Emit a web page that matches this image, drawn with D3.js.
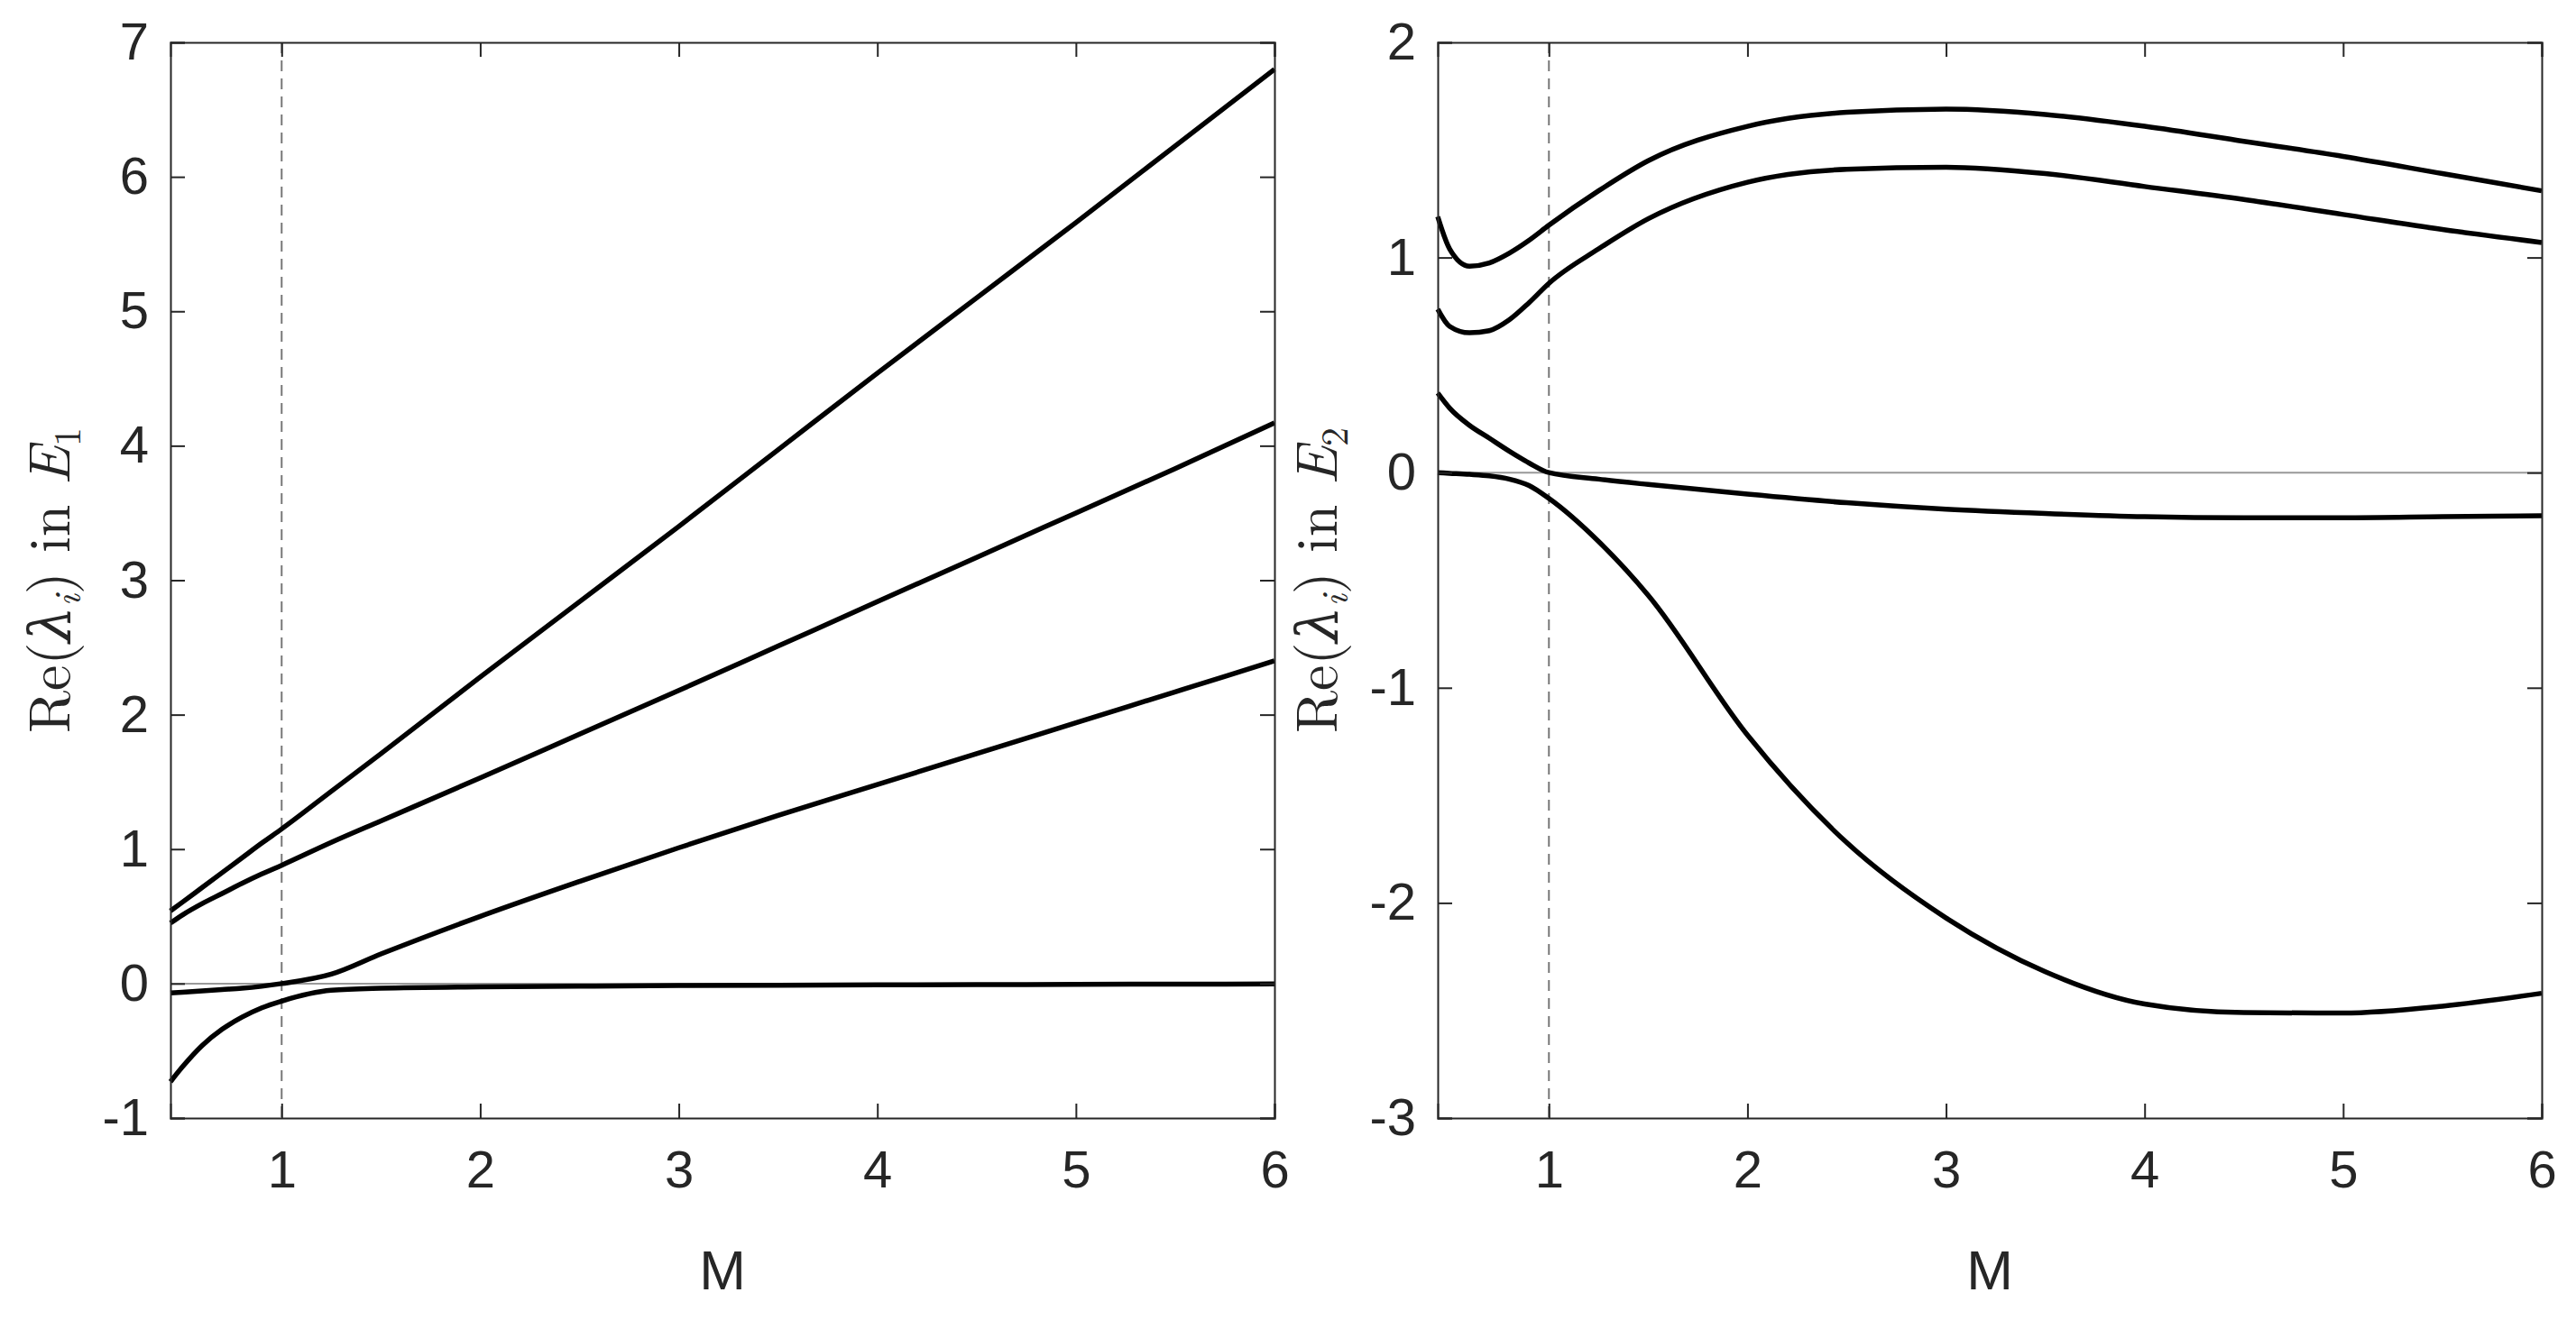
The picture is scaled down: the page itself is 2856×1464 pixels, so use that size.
<!DOCTYPE html>
<html><head><meta charset="utf-8">
<script src="https://cdn.jsdelivr.net/npm/d3@7"></script>
<style>body{margin:0;background:#fff}</style></head>
<body><svg id="c" width="2856" height="1464"></svg>
<script>
const M = [0.44,0.5,0.6,0.7,0.8,0.9,1,1.25,1.5,2,2.5,3,3.5,4,4.5,5,5.5,6];
const E1_a = [0.54,0.605,0.715,0.825,0.935,1.045,1.15,1.43,1.71,2.28,2.84,3.40,3.97,4.54,5.10,5.66,6.23,6.80];
const E1_b = [0.45,0.51,0.595,0.67,0.745,0.815,0.88,1.05,1.21,1.53,1.855,2.18,2.51,2.84,3.17,3.50,3.83,4.17];
const E1_c = [-0.07,-0.065,-0.055,-0.045,-0.035,-0.02,0.0,0.07,0.22,0.50,0.76,1.01,1.25,1.48,1.71,1.94,2.17,2.40];
const E1_d = [-0.73,-0.62,-0.46,-0.34,-0.25,-0.18,-0.13,-0.05,-0.035,-0.025,-0.02,-0.015,-0.012,-0.01,-0.008,-0.006,-0.004,-0.003];
const E2_a = [1.19,1.04,0.96,0.975,1.02,1.08,1.15,1.31,1.45,1.61,1.675,1.69,1.665,1.61,1.54,1.47,1.39,1.31];
const E2_b = [0.76,0.68,0.65,0.66,0.71,0.79,0.88,1.04,1.18,1.35,1.41,1.42,1.39,1.33,1.27,1.20,1.13,1.07];
const E2_c = [0.37,0.30,0.22,0.16,0.10,0.045,0.0,-0.03,-0.055,-0.10,-0.14,-0.17,-0.19,-0.205,-0.21,-0.21,-0.205,-0.20];
const E2_d = [0.0,-0.003,-0.008,-0.015,-0.03,-0.06,-0.12,-0.32,-0.57,-1.22,-1.72,-2.07,-2.32,-2.47,-2.51,-2.512,-2.48,-2.42];
const xTicks = [1,2,3,4,5,6];
const y1Ticks = [-1,0,1,2,3,4,5,6,7];
const y2Ticks = [-3,-2,-1,0,1,2];

const svg = d3.select("#c");
const T=47, B=1240;
const SANS="Helvetica, Liberation Sans, Arial";
function panel(L,R,ydom,yt,series,sub){
  const x=d3.scaleLinear().domain([0.44,6]).range([L,R]);
  const y=d3.scaleLinear().domain(ydom).range([B,T]);
  const g=svg.append("g");
  g.append("line").attr("x1",L).attr("x2",R).attr("y1",y(0)).attr("y2",y(0)).attr("stroke","#999").attr("stroke-width",2);
  g.append("line").attr("x1",x(1)).attr("x2",x(1)).attr("y1",T).attr("y2",B).attr("stroke","#777").attr("stroke-width",2).attr("stroke-dasharray","12,8");
  const line=d3.line().x((d,i)=>x(M[i])).y(d=>y(d)).curve(d3.curveMonotoneX);
  series.forEach(s=>g.append("path").attr("d",line(s)).attr("fill","none").attr("stroke","#000").attr("stroke-width",5.5));
  const fmt=d=>String(d);
  const ax=(a,tr,ticks,pad)=>{const s=g.append("g").attr("transform",tr).call(a.tickValues(ticks).tickSize(-16).tickFormat(fmt).tickPadding(pad));
    s.select(".domain").attr("stroke","#262626").attr("stroke-width",2);
    s.selectAll(".tick line").attr("stroke","#262626").attr("stroke-width",2);
    s.selectAll("text").attr("font-family",SANS).attr("font-size",58).attr("fill","#262626");return s;};
  ax(d3.axisBottom(x),`translate(0,${B})`,xTicks,36);
  ax(d3.axisTop(x),`translate(0,${T})`,xTicks,10).selectAll("text").remove();
  ax(d3.axisLeft(y),`translate(${L},0)`,yt,24);
  ax(d3.axisRight(y),`translate(${R},0)`,yt,10).selectAll("text").remove();
  g.append("text").attr("x",(L+R)/2).attr("y",1430).attr("text-anchor","middle").attr("font-family",SANS).attr("font-size",62).attr("fill","#262626").text("M");
  const t=g.append("text").attr("transform",`translate(${L-112},${(T+B)/2}) rotate(-90)`).attr("text-anchor","middle").attr("font-family","Latin Modern Roman, DejaVu Serif, Liberation Serif, serif").attr("font-size",64).attr("fill","#262626");
  t.append("tspan").text("Re(");
  t.append("tspan").attr("font-style","italic").text("λ");
  t.append("tspan").attr("font-style","italic").attr("font-size",42).attr("dy",12).text("i");
  t.append("tspan").attr("dy",-12).text(") in ");
  t.append("tspan").attr("font-style","italic").text("E");
  t.append("tspan").attr("font-size",42).attr("dy",12).text(sub);
}
panel(189,1413,[-1,7],y1Ticks,[E1_a,E1_b,E1_c,E1_d],"1");
panel(1594,2818,[-3,2],y2Ticks,[E2_a,E2_b,E2_c,E2_d],"2");
</script></body></html>
